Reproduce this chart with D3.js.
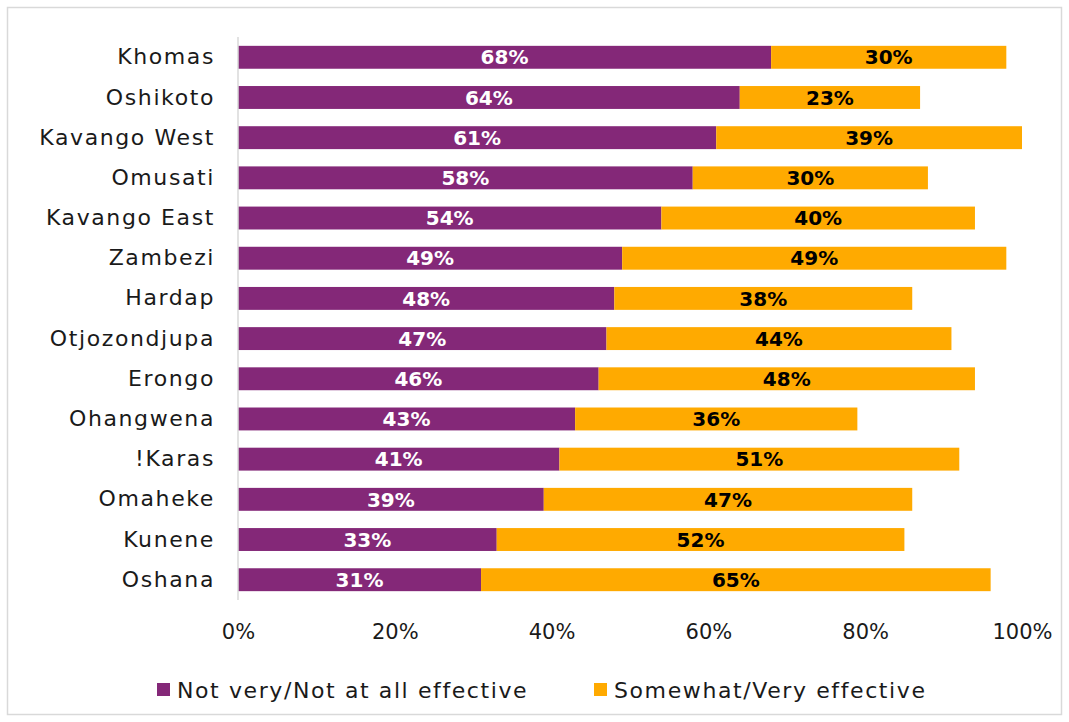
<!DOCTYPE html>
<html>
<head>
<meta charset="utf-8">
<script src="https://cdn.jsdelivr.net/npm/d3@7"></script>
<style>
  html, body { margin: 0; padding: 0; background: #fff; }
  svg { display: block; }
  text { font-family: "DejaVu Sans", sans-serif; }
</style>
</head>
<body>
<svg id="chart" width="1069" height="722"></svg>
<script>
// Regions, ordered top to bottom
const regions = ["Khomas", "Oshikoto", "Kavango West", "Omusati", "Kavango East", "Zambezi",
  "Hardap", "Otjozondjupa", "Erongo", "Ohangwena", "!Karas", "Omaheke", "Kunene", "Oshana"];
// Share (%) saying the measures are not very / not at all effective
const notEffective = [68, 64, 61, 58, 54, 49, 48, 47, 46, 43, 41, 39, 33, 31];
// Share (%) saying somewhat / very effective
const effective = [30, 23, 39, 30, 40, 49, 38, 44, 48, 36, 51, 47, 52, 65];
const seriesNames = ["Not very/Not at all effective", "Somewhat/Very effective"];
const tickValues = [0, 20, 40, 60, 80, 100];

const colors = ["#842878", "#FFAA00"];
const labelColors = ["#ffffff", "#000000"];

const svg = d3.select("#chart");
const W = 1069, H = 722;

// outer frame
svg.append("rect")
  .attr("x", 7.5).attr("y", 7.5)
  .attr("width", W - 15).attr("height", H - 15)
  .attr("fill", "#fff").attr("stroke", "#d9d9d9").attr("stroke-width", 1.5);

const margin = { left: 238, right: 47, top: 37, bottom: 122 };
const x = d3.scaleLinear().domain([0, 100]).range([margin.left, W - margin.right]);
const y = d3.scaleBand().domain(regions).range([margin.top, H - margin.bottom]).paddingInner(0.43).paddingOuter(0.22);

const rows = regions.map((r, i) => ({ region: r, values: [notEffective[i], effective[i]] }));

// stacked segments
const segs = [];
rows.forEach(row => {
  let acc = 0;
  row.values.forEach((v, k) => {
    segs.push({ region: row.region, k, v, x0: acc, x1: acc + v });
    acc += v;
  });
});

svg.append("g").selectAll("rect").data(segs).join("rect")
  .attr("x", d => x(d.x0))
  .attr("y", d => y(d.region))
  .attr("width", d => x(d.x1) - x(d.x0))
  .attr("height", y.bandwidth())
  .attr("fill", d => colors[d.k]);

// value labels
svg.append("g").selectAll("text").data(segs).join("text")
  .attr("x", d => (x(d.x0) + x(d.x1)) / 2)
  .attr("y", d => y(d.region) + y.bandwidth() / 2)
  .attr("dy", "0.36em")
  .attr("text-anchor", "middle")
  .attr("font-size", 20)
  .attr("font-weight", "bold")
  .attr("fill", d => labelColors[d.k])
  .text(d => d.v + "%");

// category axis line
svg.append("line")
  .attr("x1", x(0)).attr("x2", x(0))
  .attr("y1", margin.top).attr("y2", H - margin.bottom)
  .attr("stroke", "#d9d9d9").attr("stroke-width", 1.5);

// category labels
const yAxis = d3.axisLeft(y).tickSize(0).tickPadding(23);
const gy = svg.append("g").attr("transform", `translate(${x(0)},0)`).call(yAxis);
gy.select(".domain").remove();
gy.selectAll("text").attr("font-size", 22).attr("fill", "#1a1a1a")
  .style("letter-spacing", "1.6px")
  .style("font-family", "'DejaVu Sans', sans-serif");

// value axis labels
const xAxis = d3.axisBottom(x).tickValues(tickValues).tickFormat(d => d + "%").tickSize(0).tickPadding(24);
const gx = svg.append("g").attr("transform", `translate(0,${H - margin.bottom})`).call(xAxis);
gx.select(".domain").remove();
gx.selectAll("text").attr("font-size", 21).attr("fill", "#1a1a1a")
  .style("font-family", "'DejaVu Sans', sans-serif");

// legend
const legendItems = [{ x: 157 }, { x: 594 }];
const lg = svg.append("g");
seriesNames.forEach((name, i) => {
  lg.append("rect").attr("x", legendItems[i].x).attr("y", 683)
    .attr("width", 13).attr("height", 13).attr("fill", colors[i]);
  lg.append("text").attr("x", legendItems[i].x + 20).attr("y", 690)
    .attr("dy", "0.36em").attr("font-size", 22).attr("fill", "#1a1a1a")
    .style("letter-spacing", "1.6px")
    .text(name);
});
</script>
</body>
</html>
